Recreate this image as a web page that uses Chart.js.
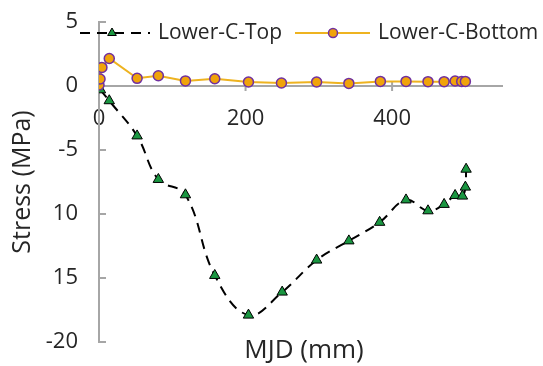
<!DOCTYPE html>
<html><head><meta charset="utf-8">
<script src="https://cdn.jsdelivr.net/npm/chart.js@4/dist/chart.umd.min.js"></script>
<style>html,body{margin:0;padding:0;background:#fff}#wrap{width:543px;height:366px}</style>
</head><body><div id="wrap"><canvas id="c" width="543" height="366"></canvas></div>
<script>
const seriesNames = ['Lower-C-Top', 'Lower-C-Bottom'];
const topX = [2, 14, 52, 81, 118, 158, 204, 250, 297, 341, 383, 419, 449, 471, 486, 496, 500, 501];
const topY = [-0.3, -1.15, -3.9, -7.3, -8.5, -14.8, -17.9, -16.1, -13.6, -12.1, -10.65, -8.9, -9.75, -9.25, -8.55, -8.6, -7.9, -6.5];
const botX = [0, 1.4, 4, 14, 52, 81, 118, 158, 204, 249, 297, 341, 384, 419, 449, 471, 486, 495, 500];
const botY = [0.08, 0.55, 1.45, 2.15, 0.6, 0.8, 0.4, 0.57, 0.31, 0.23, 0.31, 0.2, 0.36, 0.36, 0.34, 0.34, 0.39, 0.36, 0.36];
const xTickValues = [0, 200, 400];
const yTickValues = [5, 0, -5, -10, -15, -20];
const yTickLabels = ['5', '0', '-5', '10', '15', '-20'];
const xTitle = 'MJD (mm)';
const yTitle = 'Stress (MPa)';

const FONT = "'Open Sans', 'DejaVu Sans', sans-serif";
const AXIS_COLOR = '#a6a6a6';
const TEXT_COLOR = '#262626';
const yLabelMap = {};
yTickValues.forEach((v, i) => { yLabelMap[v] = yTickLabels[i]; });

const pairs = (xs, ys) => xs.map((x, i) => ({ x: x, y: ys[i] }));

const datasets = [
  {
    label: seriesNames[0],
    data: pairs(topX, topY),
    borderColor: '#000000',
    borderWidth: 2,
    borderDash: [10, 7],
    tension: 0.4,
    pointStyle: 'triangle',
    pointRadius: 6,
    pointBackgroundColor: '#1a9641',
    pointBorderColor: '#000000',
    pointBorderWidth: 1,
    order: 1
  },
  {
    label: seriesNames[1],
    data: pairs(botX, botY),
    borderColor: '#eeb320',
    borderWidth: 2,
    tension: 0,
    pointStyle: 'circle',
    pointRadius: 5,
    pointBackgroundColor: '#f0a30a',
    pointBorderColor: '#7030a0',
    pointBorderWidth: 1.5,
    order: 0
  }
];

function drawMarker(ctx, style, x, y, r, fill, stroke, lw) {
  ctx.save();
  ctx.setLineDash([]);
  ctx.beginPath();
  if (style === 'triangle') {
    for (let k = 0; k < 3; k++) {
      const a = k * 2 * Math.PI / 3;
      const px = x + Math.sin(a) * r, py = y - Math.cos(a) * r;
      if (k === 0) ctx.moveTo(px, py); else ctx.lineTo(px, py);
    }
    ctx.closePath();
  } else {
    ctx.arc(x, y, r, 0, Math.PI * 2);
  }
  ctx.fillStyle = fill; ctx.fill();
  ctx.lineWidth = lw; ctx.strokeStyle = stroke; ctx.stroke();
  ctx.restore();
}

const decorations = {
  id: 'decorations',
  beforeDatasetsDraw(chart) {
    const ctx = chart.ctx, xs = chart.scales.x, ys = chart.scales.y;
    ctx.save();
    ctx.strokeStyle = AXIS_COLOR; ctx.lineWidth = 2;
    const x0 = xs.getPixelForValue(0);
    yTickValues.forEach(v => {
      const py = ys.getPixelForValue(v);
      ctx.beginPath(); ctx.moveTo(x0, py); ctx.lineTo(x0 + 7, py); ctx.stroke();
    });
    const y0 = ys.getPixelForValue(0);
    xTickValues.forEach(v => {
      if (v === 0) return;
      const px = xs.getPixelForValue(v);
      ctx.beginPath(); ctx.moveTo(px, y0 - 5); ctx.lineTo(px, y0 + 5); ctx.stroke();
    });
    ctx.restore();
  },
  afterDraw(chart) {
    const ctx = chart.ctx;
    ctx.save();
    ctx.fillStyle = TEXT_COLOR;
    ctx.font = '26px ' + FONT;
    ctx.textAlign = 'center'; ctx.textBaseline = 'middle';
    ctx.fillText(xTitle, 304, 351);
    const ly = 33;
    const items = [
      { x1: 80, x2: 150, mx: 112, tx: 158 },
      { x1: 295, x2: 370, mx: 333, tx: 378 }
    ];
    ctx.font = '21px ' + FONT;
    ctx.textAlign = 'left';
    chart.data.datasets.forEach((ds, i) => {
      const it = items[i];
      ctx.save();
      ctx.strokeStyle = ds.borderColor; ctx.lineWidth = ds.borderWidth;
      ctx.setLineDash(ds.borderDash || []);
      ctx.beginPath(); ctx.moveTo(it.x1, ly); ctx.lineTo(it.x2, ly); ctx.stroke();
      ctx.restore();
      drawMarker(ctx, ds.pointStyle, it.mx, ly, ds.pointStyle === 'triangle' ? 5 : 4.5,
        ds.pointBackgroundColor, ds.pointBorderColor, ds.pointBorderWidth);
      ctx.fillStyle = TEXT_COLOR;
      ctx.fillText(ds.label, it.tx, ly);
    });
    ctx.restore();
  }
};

new Chart(document.getElementById('c'), {
  type: 'line',
  data: { datasets: datasets },
  options: {
    responsive: false,
    devicePixelRatio: 1,
    animation: false,
    layout: { padding: { top: 22, right: 41, left: 0, bottom: 24 } },
    plugins: { legend: { display: false }, tooltip: { enabled: false }, title: { display: false } },
    scales: {
      x: {
        type: 'linear',
        position: { y: 0 },
        min: 0, max: 550,
        afterFit: s => { s.height = 25; s.paddingLeft = 0; s.paddingRight = 0; s.paddingTop = 0; s.paddingBottom = 0; },
        afterBuildTicks: s => { s.ticks = xTickValues.map(v => ({ value: v })); },
        grid: { display: true, drawOnChartArea: false, drawTicks: false },
        border: { display: true, color: AXIS_COLOR, width: 2 },
        ticks: { font: { family: FONT, size: 22 }, color: TEXT_COLOR, padding: 20, maxRotation: 0 }
      },
      y: {
        type: 'linear',
        min: -20, max: 5,
        afterFit: s => { s.width = 99; s.paddingTop = 0; s.paddingBottom = 0; s.paddingLeft = 0; s.paddingRight = 0; },
        afterBuildTicks: s => { s.ticks = yTickValues.map(v => ({ value: v })); },
        grid: { display: true, drawOnChartArea: false, drawTicks: false },
        border: { display: true, color: AXIS_COLOR, width: 2 },
        ticks: { font: { family: FONT, size: 22 }, color: TEXT_COLOR, padding: 21,
          callback: v => (v in yLabelMap ? yLabelMap[v] : '') },
        title: { display: true, text: yTitle, font: { family: FONT, size: 25 }, color: TEXT_COLOR,
          padding: { top: 8, bottom: 0 } }
      }
    }
  },
  plugins: [decorations]
});
</script>
</body></html>
